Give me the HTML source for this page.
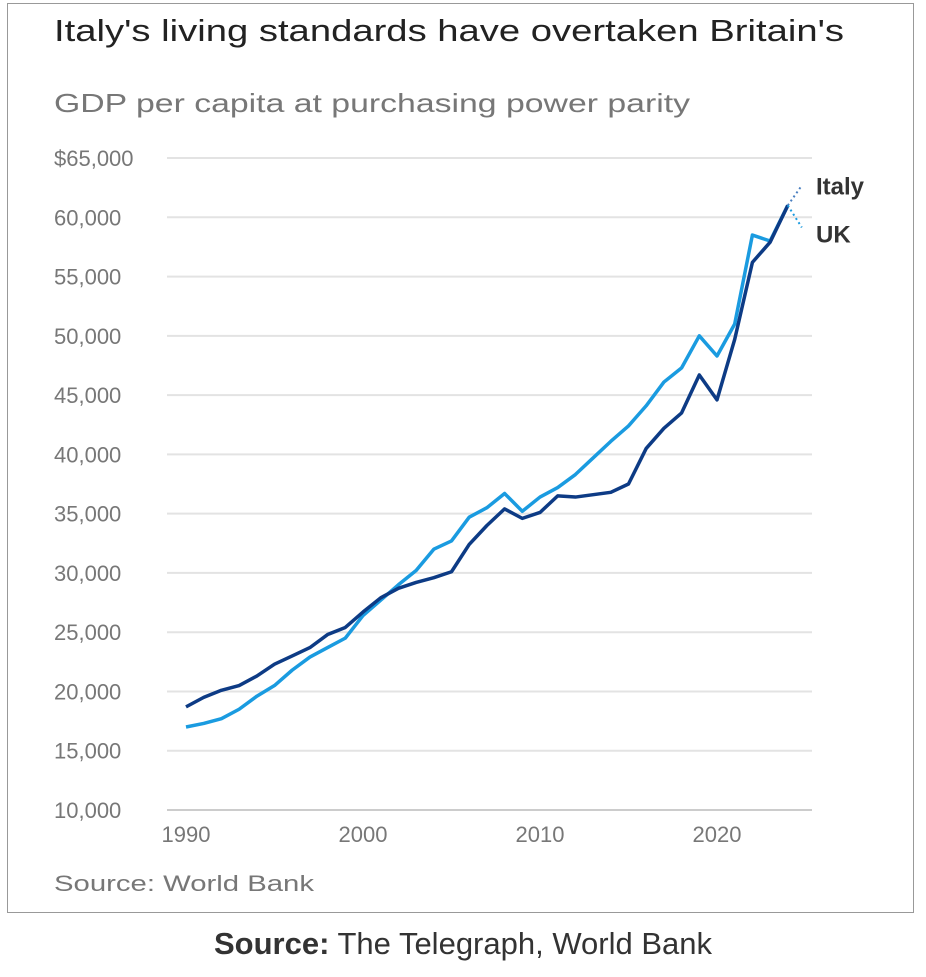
<!DOCTYPE html>
<html><head><meta charset="utf-8"><style>
body{margin:0;background:#fff;width:926px;height:972px;overflow:hidden;font-family:"Liberation Sans",sans-serif;}
</style></head><body>
<svg width="926" height="972">
<rect x="7.5" y="3.5" width="906" height="909" fill="#fff" stroke="#999"/>
<text x="54" y="41" font-size="31" fill="#222" textLength="790" lengthAdjust="spacingAndGlyphs">Italy's living standards have overtaken Britain's</text>
<text x="54" y="112" font-size="26" fill="#777" textLength="636" lengthAdjust="spacingAndGlyphs">GDP per capita at purchasing power parity</text>
<g id="grid"></g>
<g id="lines"></g>
<text x="54" y="891" font-size="22" fill="#777" textLength="260" lengthAdjust="spacingAndGlyphs">Source: World Bank</text>
<text x="463" y="954" font-size="31" fill="#333" text-anchor="middle"><tspan font-weight="bold">Source:</tspan> The Telegraph, World Bank</text>
</svg>
<script>
const years=[1990,1991,1992,1993,1994,1995,1996,1997,1998,1999,2000,2001,2002,2003,2004,2005,2006,2007,2008,2009,2010,2011,2012,2013,2014,2015,2016,2017,2018,2019,2020,2021,2022,2023,2024];
const italy=[18.7,19.5,20.1,20.5,21.3,22.3,23.0,23.7,24.8,25.4,26.7,27.9,28.7,29.2,29.6,30.1,32.4,34.0,35.4,34.6,35.1,36.5,36.4,36.6,36.8,37.5,40.5,42.2,43.5,46.7,44.6,49.7,56.2,57.9,61.0];
const uk=[17.0,17.3,17.7,18.5,19.6,20.5,21.8,22.9,23.7,24.5,26.4,27.7,29.0,30.2,32.0,32.7,34.7,35.5,36.7,35.2,36.4,37.2,38.3,39.7,41.1,42.4,44.1,46.1,47.3,50.0,48.3,51.0,58.5,58.0,61.0];
const yTicks=[10,15,20,25,30,35,40,45,50,55,60,65];
const yTickLabels=["10,000","15,000","20,000","25,000","30,000","35,000","40,000","45,000","50,000","55,000","60,000","$65,000"];
const xTicks=[1990,2000,2010,2020];
const NS="http://www.w3.org/2000/svg";
const X=yr=>186+(yr-1990)*17.7;
const Y=v=>810-(v-10)/5*59.27;
const grid=document.getElementById('grid'),lines=document.getElementById('lines');
function mk(tag,attrs,parent,txt){const e=document.createElementNS(NS,tag);for(const k in attrs)e.setAttribute(k,attrs[k]);if(txt!==undefined)e.textContent=txt;parent.appendChild(e);return e;}
yTicks.forEach((t,i)=>{
  const l=mk('line',{x1:167,x2:812,y1:Y(t),y2:Y(t),stroke:t===10?'#ccc':'#e3e3e3','stroke-width':2},grid);
  
  
  const tx=mk('text',{x:54,y:Y(t)+8,'font-size':22,fill:'#777'},grid,yTickLabels[i]);
  
  
});
xTicks.forEach(t=>{
  const tx=mk('text',{x:X(t),y:842,'font-size':22,fill:'#777','text-anchor':'middle'},grid,String(t));
  
  
});
function pts(arr){return arr.map((v,i)=>X(years[i])+','+Y(v)).join(' ');}
const pu=mk('polyline',{points:pts(uk),fill:'none',stroke:'#1a9be0','stroke-width':3.5,'stroke-linejoin':'round'},lines);


const pi=mk('polyline',{points:pts(italy),fill:'none',stroke:'#0d3b85','stroke-width':3.5,'stroke-linejoin':'round'},lines);


const ex=X(2024),ei=Y(italy[italy.length-1]),eu=Y(uk[uk.length-1]);
const d1=mk('line',{x1:ex,y1:ei,x2:ex+14,y2:ei-20,stroke:'#4a7fc0','stroke-width':2,'stroke-dasharray':'2,3'},lines);


const d2=mk('line',{x1:ex,y1:eu,x2:ex+14,y2:eu+22,stroke:'#1a9be0','stroke-width':2,'stroke-dasharray':'2,3'},lines);


const li=mk('text',{x:816,y:ei-11,'font-size':24,'font-weight':'bold',fill:'#333'},lines,'Italy');


const lu=mk('text',{x:816,y:eu+37,'font-size':24,'font-weight':'bold',fill:'#333'},lines,'UK');


</script>
</body></html>
